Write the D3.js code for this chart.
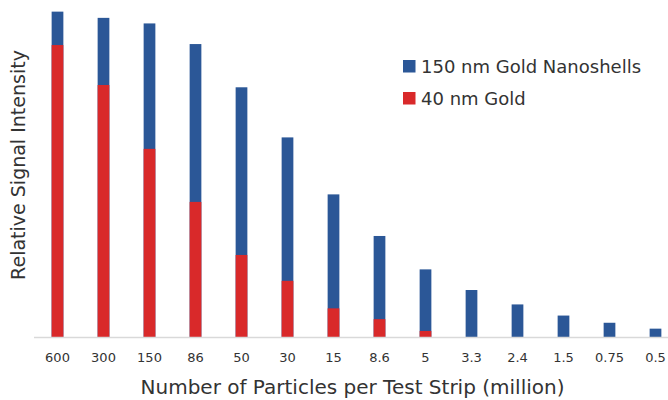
<!DOCTYPE html>
<html><head><meta charset="utf-8">
<script src="https://cdn.jsdelivr.net/npm/d3@7"></script>
<style>body{margin:0;background:#fff}svg{display:block}text{font-family:"DejaVu Sans",Verdana,sans-serif;fill:#333}</style>
</head><body><svg width="668" height="400"></svg>
<script>
const categories = ["600","300","150","86","50","30","15","8.6","5","3.3","2.4","1.5","0.75","0.5"];
const nanoshells = [99.5,97.6,95.9,89.6,76.4,61.1,43.7,31.0,20.8,14.5,10.1,6.7,4.5,2.7];
const gold40 = [89.3,77.1,57.6,41.4,25.2,17.3,8.9,5.6,2.0,0,0,0,0,0];
const seriesNames = ["150 nm Gold Nanoshells","40 nm Gold"];
const colors = ["#2b5797","#d9292a"];

const svg = d3.select("svg");
const x = d3.scaleBand().domain(categories).range([34.5,678.5]).paddingInner(0.745).paddingOuter(0.3725);
const y = d3.scaleLinear().domain([0,100]).range([337.5,10]);

const g = svg.append("g");
[nanoshells, gold40].forEach((vals,si)=>{
  g.selectAll(null).data(categories).enter().append("rect")
    .attr("x",d=>x(d)).attr("width",x.bandwidth())
    .attr("y",(d,i)=>y(vals[i])).attr("height",(d,i)=>y(0)-y(vals[i]))
    .attr("fill",colors[si]);
});

const ax = svg.append("g").attr("transform",`translate(0,${y(0)})`)
  .call(d3.axisBottom(x).tickSize(0).tickPadding(15));
ax.select(".domain").attr("stroke","#d9d9d9").attr("stroke-width",1.5).attr("d","M34,0H668");
ax.selectAll("text").attr("font-size",13).attr("fill","#333").style("font-family","DejaVu Sans,Verdana,sans-serif");

svg.append("text").attr("x",352.5).attr("y",394).attr("text-anchor","middle").attr("font-size",20).text("Number of Particles per Test Strip (million)");
svg.append("text").attr("transform","translate(25,165) rotate(-90)").attr("text-anchor","middle").attr("font-size",19).text("Relative Signal Intensity");

const leg = svg.append("g");
seriesNames.forEach((n,i)=>{
  leg.append("rect").attr("x",403).attr("y",60+i*32).attr("width",12.5).attr("height",12.5).attr("fill",colors[i]);
  leg.append("text").attr("x",421).attr("y",73+i*32).attr("font-size",18).text(n);
});
</script></body></html>
